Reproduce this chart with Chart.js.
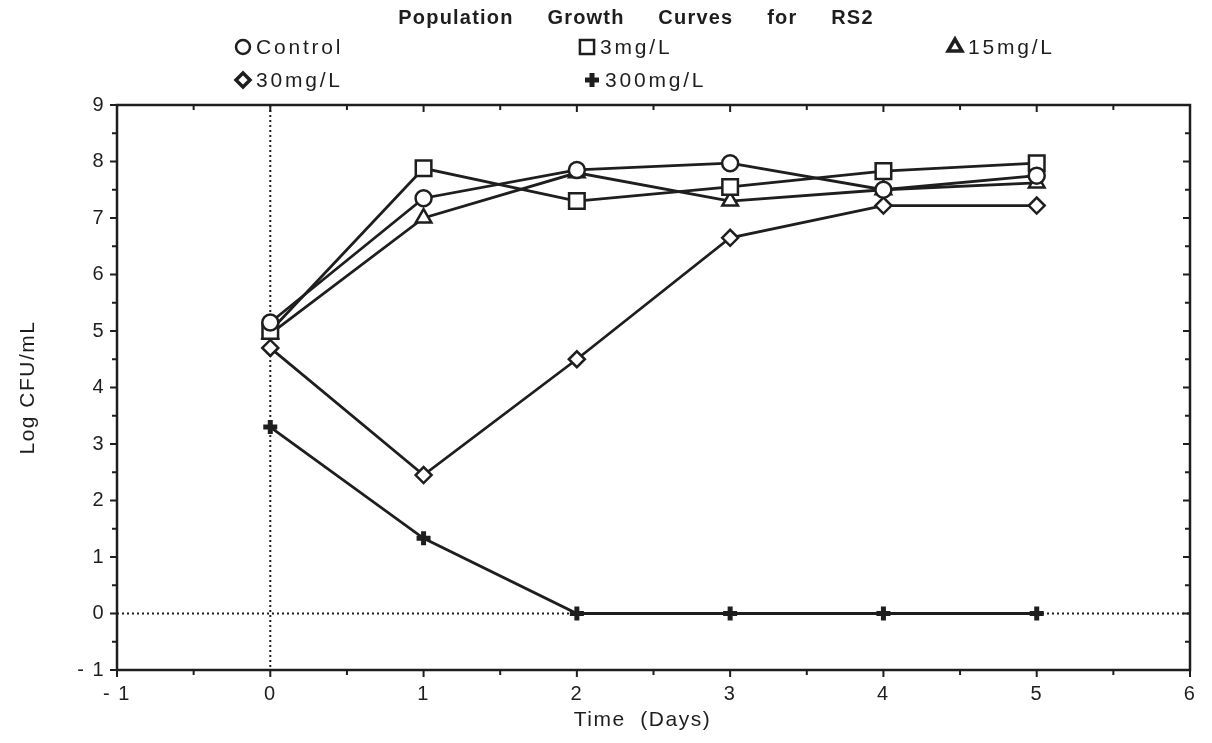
<!DOCTYPE html>
<html>
<head>
<meta charset="utf-8">
<script src="https://cdn.jsdelivr.net/npm/chart.js@4"></script>
<style>
  html, body { margin: 0; padding: 0; background: #fff; }
  #wrap { width: 1212px; height: 743px; position: relative; }
</style>
</head>
<body>
<div id="wrap"><canvas id="growthChart" width="1212" height="743"></canvas></div>
<script>
// data
const days = [0, 1, 2, 3, 4, 5];
const seriesNames = ['Control', '3mg/L', '15mg/L', '30mg/L', '300mg/L'];
const control = [5.15, 7.35, 7.85, 7.97, 7.5, 7.75];
const mg3 = [5.0, 7.88, 7.3, 7.55, 7.83, 7.97];
const mg15 = [4.95, 7.0, 7.8, 7.3, 7.5, 7.62];
const mg30 = [4.7, 2.45, 4.5, 6.65, 7.22, 7.22];
const mg300 = [3.3, 1.33, 0, 0, 0, 0];
const xTicks = [-1, 0, 1, 2, 3, 4, 5, 6];
const yTicks = [-1, 0, 1, 2, 3, 4, 5, 6, 7, 8, 9];

const ink = '#1e1e1e';
const fontFam = '"Liberation Sans", Arial, sans-serif';
const markers = [
    {style: 'circle', radius: 8, border: 2.5},
    {style: 'rect', radius: 11, border: 2.5},
    {style: 'triangle', radius: 9, border: 2.5},
    {style: 'rectRot', radius: 8, border: 2.5},
    {style: 'cross', radius: 7, border: 5}
];
const values = [control, mg3, mg15, mg30, mg300];

const datasets = values.map((vals, i) => ({
    label: seriesNames[i],
    data: days.map((d, j) => ({x: d, y: vals[j]})),
    borderColor: ink,
    borderWidth: 2.8,
    pointStyle: markers[i].style,
    pointRadius: markers[i].radius,
    pointBorderWidth: markers[i].border,
    pointBackgroundColor: '#fff',
    pointBorderColor: ink,
    tension: 0
}));

// title, legend, zero lines and frame ticks
const decor = {
    id: 'decor',
    beforeDraw(chart) {
        // axis text in the original is slightly spaced out
        chart.ctx.letterSpacing = '1.5px';
    },
    beforeDatasetsDraw(chart) {
        const ctx = chart.ctx;
        const xs = chart.scales.x, ys = chart.scales.y;
        const a = chart.chartArea;
        ctx.save();
        ctx.strokeStyle = ink;
        ctx.lineWidth = 2;
        ctx.setLineDash([2, 3]);
        const x0 = xs.getPixelForValue(0), y0 = ys.getPixelForValue(0);
        ctx.beginPath();
        ctx.moveTo(x0, a.top); ctx.lineTo(x0, a.bottom);
        ctx.moveTo(a.left, y0); ctx.lineTo(a.right, y0);
        ctx.stroke();
        ctx.restore();
    },
    afterDraw(chart) {
        const ctx = chart.ctx;
        const xs = chart.scales.x, ys = chart.scales.y;
        const a = chart.chartArea;
        ctx.save();
        // frame
        ctx.strokeStyle = ink;
        ctx.lineWidth = 2.5;
        ctx.setLineDash([]);
        ctx.strokeRect(a.left, a.top, a.right - a.left, a.bottom - a.top);
        // ticks
        ctx.lineWidth = 2;
        ctx.beginPath();
        for (let v = -1; v <= 6.001; v += 0.5) {
            const p = xs.getPixelForValue(v);
            const len = Number.isInteger(v) ? 7 : 5;
            ctx.moveTo(p, a.bottom); ctx.lineTo(p, a.bottom + len);
            ctx.moveTo(p, a.top); ctx.lineTo(p, a.top + len);
        }
        for (let v = -1; v <= 9.001; v += 0.5) {
            const p = ys.getPixelForValue(v);
            const len = Number.isInteger(v) ? 7 : 5;
            ctx.moveTo(a.left, p); ctx.lineTo(a.left - len, p);
            ctx.moveTo(a.right, p); ctx.lineTo(a.right - len, p);
        }
        ctx.stroke();

        // title
        ctx.fillStyle = ink;
        ctx.font = 'bold 20px ' + fontFam;
        ctx.letterSpacing = '1.2px';
        ctx.textAlign = 'center';
        ctx.textBaseline = 'middle';
        ctx.fillText('Population     Growth     Curves     for     RS2', 636, 18);

        // legend
        const spots = [[243, 47], [587, 47], [955, 47], [243, 80], [592, 80]];
        ctx.font = '21px ' + fontFam;
        ctx.letterSpacing = '2.8px';
        ctx.textAlign = 'left';
        spots.forEach((s, i) => {
            ctx.strokeStyle = ink;
            ctx.fillStyle = '#fff';
            const bw = i === 4 ? 5 : (i === 0 || i === 1 ? 2.5 : 3.5);
            ctx.lineWidth = bw;
            Chart.helpers.drawPoint(ctx, {
                pointStyle: markers[i].style,
                radius: [7, 10, 8, 7, 7][i],
                rotation: 0,
                borderWidth: bw
            }, s[0], s[1]);
            ctx.fillStyle = ink;
            ctx.fillText(seriesNames[i], s[0] + 13, s[1] + 1);
        });
        ctx.restore();
    }
};

const chartCtx = document.getElementById('growthChart').getContext('2d');
new Chart(chartCtx, {
    type: 'line',
    data: {datasets: datasets},
    plugins: [decor],
    options: {
        responsive: false,
        animation: false,
        layout: {padding: {top: 105, right: 22, left: 0, bottom: 0}},
        plugins: {
            legend: {display: false},
            tooltip: {enabled: false}
        },
        scales: {
            x: {
                type: 'linear',
                min: -1, max: 6,
                afterBuildTicks: s => { s.ticks = xTicks.map(v => ({value: v})); },
                afterFit: s => { s.height = 73; },
                grid: {display: false, drawTicks: false},
                border: {display: false},
                ticks: {
                    color: ink, padding: 12,
                    font: {size: 20, family: fontFam},
                    callback: v => v < 0 ? '- ' + Math.abs(v) : String(v)
                },
                title: {
                    display: true, text: 'Time  (Days)   ', color: ink, padding: {top: 0, bottom: 10},
                    font: {size: 21, family: fontFam}
                }
            },
            y: {
                min: -1, max: 9,
                afterBuildTicks: s => { s.ticks = yTicks.map(v => ({value: v})); },
                afterFit: s => { s.width = 117; },
                grid: {display: false, drawTicks: false},
                border: {display: false},
                ticks: {
                    color: ink, padding: 12,
                    font: {size: 20, family: fontFam},
                    callback: v => v < 0 ? '- ' + Math.abs(v) : String(v)
                },
                title: {
                    display: true, text: 'Log CFU/mL', color: ink, padding: {top: 16, bottom: 0},
                    font: {size: 21, family: fontFam}
                }
            }
        }
    }
});
</script>
</body>
</html>
